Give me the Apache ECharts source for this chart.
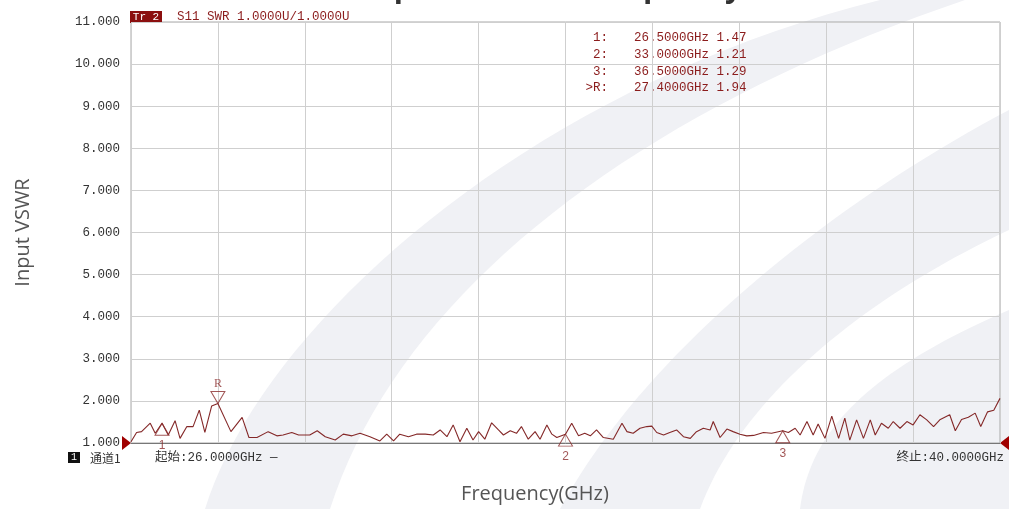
<!DOCTYPE html>
<html>
<head>
<meta charset="utf-8">
<script src="https://cdn.jsdelivr.net/npm/echarts@6/dist/echarts.min.js"></script>
<style>html,body{margin:0;padding:0;background:#fff}#c{width:1009px;height:509px}</style>
</head>
<body>
<div id="c"></div>
<script>
// ---- data ----
const freqGHz = [26.00,26.09,26.17,26.31,26.39,26.50,26.60,26.71,26.79,26.90,27.00,27.10,27.19,27.30,27.40,27.61,27.79,27.90,28.03,28.21,28.35,28.45,28.59,28.70,28.88,29.00,29.13,29.29,29.42,29.56,29.69,29.85,30.01,30.12,30.23,30.33,30.47,30.60,30.74,30.87,30.98,31.09,31.19,31.30,31.41,31.51,31.60,31.70,31.81,31.92,32.00,32.11,32.21,32.29,32.40,32.51,32.59,32.70,32.78,32.86,33.00,33.10,33.21,33.31,33.40,33.50,33.61,33.77,33.91,33.99,34.09,34.20,34.31,34.39,34.47,34.58,34.68,34.79,34.90,35.01,35.11,35.22,35.33,35.38,35.49,35.60,35.70,35.81,35.92,36.03,36.19,36.32,36.50,36.59,36.70,36.78,36.89,36.99,37.07,37.18,37.29,37.40,37.50,37.58,37.69,37.80,37.91,37.99,38.09,38.20,38.28,38.39,38.50,38.60,38.71,38.82,38.93,39.03,39.19,39.28,39.38,39.49,39.60,39.69,39.80,39.90,40.00];
const vswr = [1.03,1.25,1.27,1.47,1.23,1.47,1.19,1.53,1.11,1.39,1.39,1.78,1.25,1.88,1.94,1.27,1.61,1.13,1.13,1.27,1.17,1.19,1.25,1.19,1.19,1.29,1.15,1.07,1.21,1.17,1.23,1.15,1.05,1.21,1.05,1.21,1.15,1.21,1.21,1.19,1.31,1.15,1.43,1.03,1.35,1.07,1.27,1.09,1.48,1.31,1.19,1.29,1.23,1.39,1.09,1.27,1.09,1.43,1.21,1.13,1.21,1.47,1.17,1.23,1.17,1.31,1.13,1.09,1.47,1.27,1.23,1.35,1.39,1.40,1.25,1.19,1.25,1.31,1.15,1.11,1.27,1.35,1.31,1.51,1.13,1.33,1.27,1.21,1.17,1.18,1.25,1.23,1.29,1.25,1.35,1.19,1.51,1.19,1.45,1.11,1.64,1.11,1.59,1.07,1.55,1.11,1.55,1.19,1.47,1.35,1.51,1.35,1.51,1.43,1.67,1.55,1.39,1.55,1.67,1.29,1.56,1.61,1.71,1.39,1.74,1.78,2.06];
const markerNames = ['1','2','3'];
const markerFreq = [26.5, 33.0, 36.5];
const markerVal = [1.47, 1.21, 1.29];
const refName = 'R';
const refFreq = 27.4;
const refVal = 1.94;
const yTicks = [1,2,3,4,5,6,7,8,9,10,11];
const startFreq = 26.0, stopFreq = 40.0;
const titleText = 'Input VSWR vs Frequency';
const yName = 'Input VSWR';
const xName = 'Frequency(GHz)';
const traceLabel = 'S11 SWR 1.0000U/1.0000U';

// ---- chart ----
const RED = '#8b1c1c';
const MONO = '"Liberation Mono", "Noto Sans CJK SC", monospace';
const chart = echarts.init(document.getElementById('c'), null, {renderer:'canvas'});

function bez(p0,p1,p2,p3,n){
  const out=[];
  for(let i=0;i<=n;i++){const t=i/n,u=1-t;
    out.push([u*u*u*p0[0]+3*u*u*t*p1[0]+3*u*t*t*p2[0]+t*t*t*p3[0], u*u*u*p0[1]+3*u*u*t*p1[1]+3*u*t*t*p2[1]+t*t*t*p3[1]]);}
  return out;
}
const bandA = bez([205,509],[260,330],[520,90],[880,0],40).concat(bez([965,0],[640,110],[400,290],[330,509],40));
const bandB = bez([560,509],[640,360],[820,210],[1009,110],40).concat(bez([1009,230],[860,300],[740,400],[700,509],40));
const bandC = bez([800,509],[810,430],[870,370],[1009,310],40).concat([[1009,509]]);

const tableLabels = markerNames.map(n => n + ':').concat(['>' + refName + ':']);
const tableVals = markerFreq.map((f,i) => f.toFixed(4) + 'GHz ' + markerVal[i].toFixed(2)).concat([refFreq.toFixed(4) + 'GHz ' + refVal.toFixed(2)]);

const WM = '#f0f1f5';
const graphics = [
  {type:'polygon', z:-10, silent:true, shape:{points:bandA}, style:{fill:WM}},
  {type:'polygon', z:-10, silent:true, shape:{points:bandB}, style:{fill:WM}},
  {type:'polygon', z:-10, silent:true, shape:{points:bandC}, style:{fill:WM}},
  {type:'text', x:553, y:3, style:{text:titleText, font:'bold 30px "Open Sans", sans-serif', fill:'#333', textAlign:'center', textVerticalAlign:'bottom'}},
  {type:'rect', shape:{x:130, y:11, width:32, height:12}, style:{fill:'#8b0f0f'}},
  {type:'text', x:146, y:17, style:{text:'Tr 2', font:'11px ' + MONO, fill:'#fff', textAlign:'center', textVerticalAlign:'middle'}},
  {type:'text', x:177, y:16.5, style:{text:traceLabel, font:'12.5px ' + MONO, fill:RED, textVerticalAlign:'middle'}},
  {type:'rect', shape:{x:68, y:452, width:12, height:11}, style:{fill:'#111'}},
  {type:'text', x:74, y:457.5, style:{text:'1', font:'10px ' + MONO, fill:'#fff', textAlign:'center', textVerticalAlign:'middle'}},
  {type:'text', x:90, y:458, style:{text:'通道1', font:'12px "Noto Sans CJK SC", sans-serif', fill:'#333', textVerticalAlign:'middle'}},
  {type:'text', x:155, y:458, style:{text:'起始:' + startFreq.toFixed(4) + 'GHz —', font:'12.5px ' + MONO, fill:'#333', textVerticalAlign:'middle'}},
  {type:'text', x:1004, y:458, style:{text:'终止:' + stopFreq.toFixed(4) + 'GHz', font:'12.5px ' + MONO, fill:'#333', textAlign:'right', textVerticalAlign:'middle'}},
  {type:'polygon', shape:{points:[[122,436],[131,443],[122,450]]}, style:{fill:'#a00000'}},
  {type:'polygon', shape:{points:[[1009,436],[1000,443],[1009,450]]}, style:{fill:'#a00000'}},
  {type:'text', x:535, y:494, style:{text:xName, font:'20px "Open Sans", sans-serif', fill:'#555', textAlign:'center', textVerticalAlign:'middle'}}
];
tableLabels.forEach((t,i) => {
  graphics.push({type:'text', x:608, y:38 + i*16.7, style:{text:t, font:'12.5px ' + MONO, fill:RED, textAlign:'right', textVerticalAlign:'middle'}});
  graphics.push({type:'text', x:634, y:38 + i*16.7, style:{text:tableVals[i], font:'12.5px ' + MONO, fill:RED, textVerticalAlign:'middle'}});
});

const option = {
  animation:false,
  backgroundColor:'#fff',
  grid:{left:131, right:9, top:22, bottom:66, show:true, borderColor:'#a8a8a8', borderWidth:1, backgroundColor:'transparent'},
  xAxis:[
    {type:'value', min:startFreq, max:stopFreq, axisLabel:{show:false}, axisTick:{show:false}, splitLine:{show:false}, axisLine:{show:true, lineStyle:{color:'#777', width:1}}},
    {type:'value', min:0, max:10, interval:1, position:'top', axisLabel:{show:false}, axisTick:{show:false}, axisLine:{show:false}, splitLine:{show:true, lineStyle:{color:'#cfcfcf', width:1}}}
  ],
  yAxis:{type:'value', min:yTicks[0], max:yTicks[yTicks.length-1], interval:1,
    name:yName, nameLocation:'middle', nameGap:98, nameRotate:90,
    nameTextStyle:{fontFamily:'"Open Sans", sans-serif', fontSize:20, color:'#555'},
    axisLabel:{formatter:v => v.toFixed(3), fontFamily:MONO, fontSize:12.5, color:'#333', margin:11},
    axisTick:{show:false}, axisLine:{show:false},
    splitLine:{show:true, lineStyle:{color:'#cfcfcf', width:1}}},
  graphic:graphics,
  series:[
    {type:'line', xAxisIndex:0, data:freqGHz.map((f,i)=>[f, vswr[i]]), showSymbol:false, symbol:'none',
     lineStyle:{color:'#842828', width:1.1}, z:3},
    {type:'scatter', xAxisIndex:0, data:markerFreq.map((f,i)=>({value:[f, markerVal[i]], name:markerNames[i]})),
     symbol:'triangle', symbolSize:[14,12], symbolOffset:[0,6],
     itemStyle:{color:'rgba(255,255,255,0)', borderColor:'#8b2d2d', borderWidth:1},
     label:{show:true, position:'bottom', distance:0, formatter:p=>p.name, color:'#8b2d2d', fontSize:12, fontFamily:'"Liberation Sans", sans-serif', offset:[0,4]}, z:4},
    {type:'scatter', xAxisIndex:0, data:[{value:[refFreq, refVal], name:refName}],
     symbol:'path://M0,0 L14,0 L7,12 Z', symbolSize:[14,12], symbolOffset:[0,-6],
     itemStyle:{color:'rgba(255,255,255,0)', borderColor:'#8b2d2d', borderWidth:1},
     label:{show:true, position:'top', distance:0, formatter:p=>p.name, color:'#8b2d2d', fontSize:12, fontFamily:'"Liberation Serif", serif', offset:[0,-1]}, z:4}
  ]
};
chart.setOption(option);
</script>
</body>
</html>
